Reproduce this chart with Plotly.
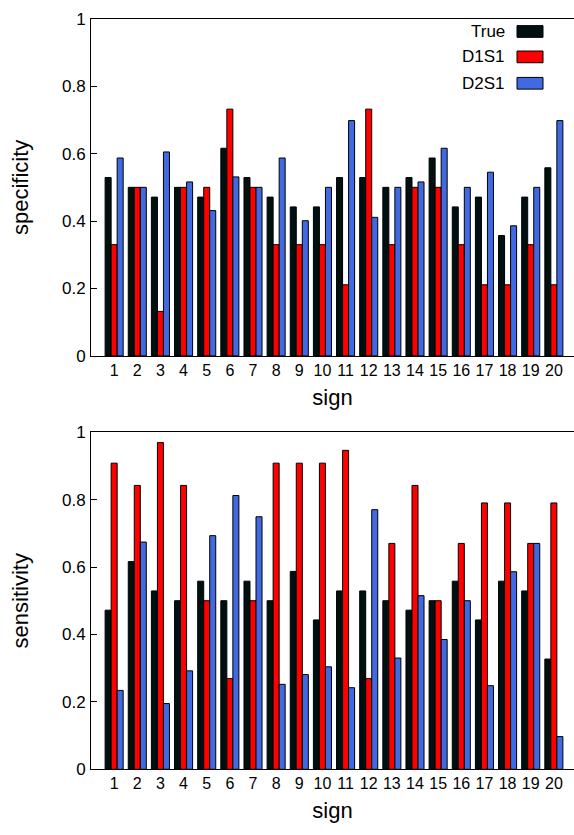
import plotly.graph_objects as go

signs = list(range(1, 21))
series_names = ["True", "D1S1", "D2S1"]
colors = ["#001010", "#ff0000", "#4169e1"]

spec_true = [0.529, 0.500, 0.471, 0.500, 0.471, 0.616, 0.529, 0.471, 0.442, 0.442,
             0.529, 0.529, 0.500, 0.529, 0.587, 0.442, 0.471, 0.357, 0.471, 0.558]
spec_d1s1 = [0.330, 0.500, 0.132, 0.500, 0.500, 0.732, 0.500, 0.330, 0.330, 0.330,
             0.211, 0.732, 0.330, 0.500, 0.500, 0.330, 0.211, 0.211, 0.330, 0.211]
spec_d2s1 = [0.587, 0.500, 0.605, 0.516, 0.431, 0.531, 0.500, 0.587, 0.401, 0.500,
             0.698, 0.411, 0.500, 0.516, 0.616, 0.500, 0.545, 0.386, 0.500, 0.698]

sens_true = [0.472, 0.616, 0.529, 0.500, 0.558, 0.500, 0.558, 0.500, 0.587, 0.443,
             0.529, 0.529, 0.500, 0.472, 0.500, 0.558, 0.443, 0.558, 0.529, 0.327]
sens_d1s1 = [0.908, 0.842, 0.969, 0.842, 0.500, 0.269, 0.500, 0.908, 0.908, 0.908,
             0.946, 0.269, 0.670, 0.842, 0.500, 0.670, 0.790, 0.790, 0.670, 0.790]
sens_d2s1 = [0.234, 0.674, 0.195, 0.292, 0.693, 0.812, 0.749, 0.252, 0.281, 0.304,
             0.242, 0.770, 0.330, 0.515, 0.385, 0.500, 0.248, 0.586, 0.670, 0.097]

yticks = [0, 0.2, 0.4, 0.6, 0.8, 1]
ytick_text = ["0", "0.2", "0.4", "0.6", "0.8", "1"]

W, H = 574, 835
FONT = "Liberation Sans, Arial, sans-serif"

fig = go.Figure()
top = [spec_true, spec_d1s1, spec_d2s1]
bot = [sens_true, sens_d1s1, sens_d2s1]
for name, col, vals in zip(series_names, colors, top):
    fig.add_trace(go.Bar(x=signs, y=vals, name=name, marker=dict(color=col, line=dict(color="black", width=1)),
                         xaxis="x", yaxis="y", showlegend=False))
for name, col, vals in zip(series_names, colors, bot):
    fig.add_trace(go.Bar(x=signs, y=vals, name=name, marker=dict(color=col, line=dict(color="black", width=1)),
                         xaxis="x2", yaxis="y2", showlegend=False))

def px_to_py(p):
    return (H - p) / H

x_dom = [91 / W, 1.0]
top_dom = [px_to_py(355), px_to_py(10)]
bot_dom = [px_to_py(778), px_to_py(433)]
xrange = [0, 20.87]

xcommon = dict(range=xrange, tickmode="array", tickvals=signs, ticktext=[str(s) for s in signs],
               showline=True, linecolor="black", linewidth=1, mirror=True, ticks="", showgrid=False,
               zeroline=False, tickfont=dict(size=16, color="black", family=FONT),
               title=dict(text="sign", font=dict(size=22, color="black", family=FONT), standoff=11))
ycommon = dict(range=[0, 1], tickmode="array", tickvals=yticks, ticktext=ytick_text,
               showline=True, linecolor="black", linewidth=1, ticks="inside", ticklen=6, tickcolor="black",
               showgrid=False, zeroline=False, ticklabelstandoff=1,
               tickfont=dict(size=17, color="black", family=FONT))

fig.update_layout(
    width=W, height=H, margin=dict(l=0, r=0, t=0, b=0),
    plot_bgcolor="white", paper_bgcolor="white",
    barmode="group", bargap=0.22, bargroupgap=0,
    font=dict(family=FONT, color="black"),
    xaxis=dict(domain=x_dom, anchor="y", **xcommon),
    yaxis=dict(domain=top_dom, anchor="x", title=dict(text="specificity", font=dict(size=22, color="black", family=FONT), standoff=27), **ycommon),
    xaxis2=dict(domain=x_dom, anchor="y2", **xcommon),
    yaxis2=dict(domain=bot_dom, anchor="x2", title=dict(text="sensitivity", font=dict(size=22, color="black", family=FONT), standoff=27), **ycommon),
    yaxis3=dict(overlaying="y", side="right", anchor="x", range=[0, 1], tickmode="array", tickvals=yticks,
                ticks="inside", ticklen=5, tickcolor="black", showticklabels=False, showgrid=False,
                zeroline=False, showline=False),
    yaxis4=dict(overlaying="y2", side="right", anchor="x2", range=[0, 1], tickmode="array", tickvals=yticks,
                ticks="inside", ticklen=5, tickcolor="black", showticklabels=False, showgrid=False,
                zeroline=False, showline=False),
)

# legend (gnuplot style: text right-aligned, swatch on right)
leg_y = [23, 49, 76]
for name, col, yp in zip(series_names, colors, leg_y):
    fig.add_annotation(x=507 / W, y=px_to_py(yp), xref="paper", yref="paper", text=name,
                       showarrow=False, xanchor="right", yanchor="middle",
                       font=dict(size=17, color="black", family=FONT))
    fig.add_shape(type="rect", xref="paper", yref="paper",
                  x0=517 / W, x1=543 / W, y0=px_to_py(yp + 6), y1=px_to_py(yp - 6),
                  fillcolor=col, line=dict(color="black", width=1))

fig.write_html("out.html")
